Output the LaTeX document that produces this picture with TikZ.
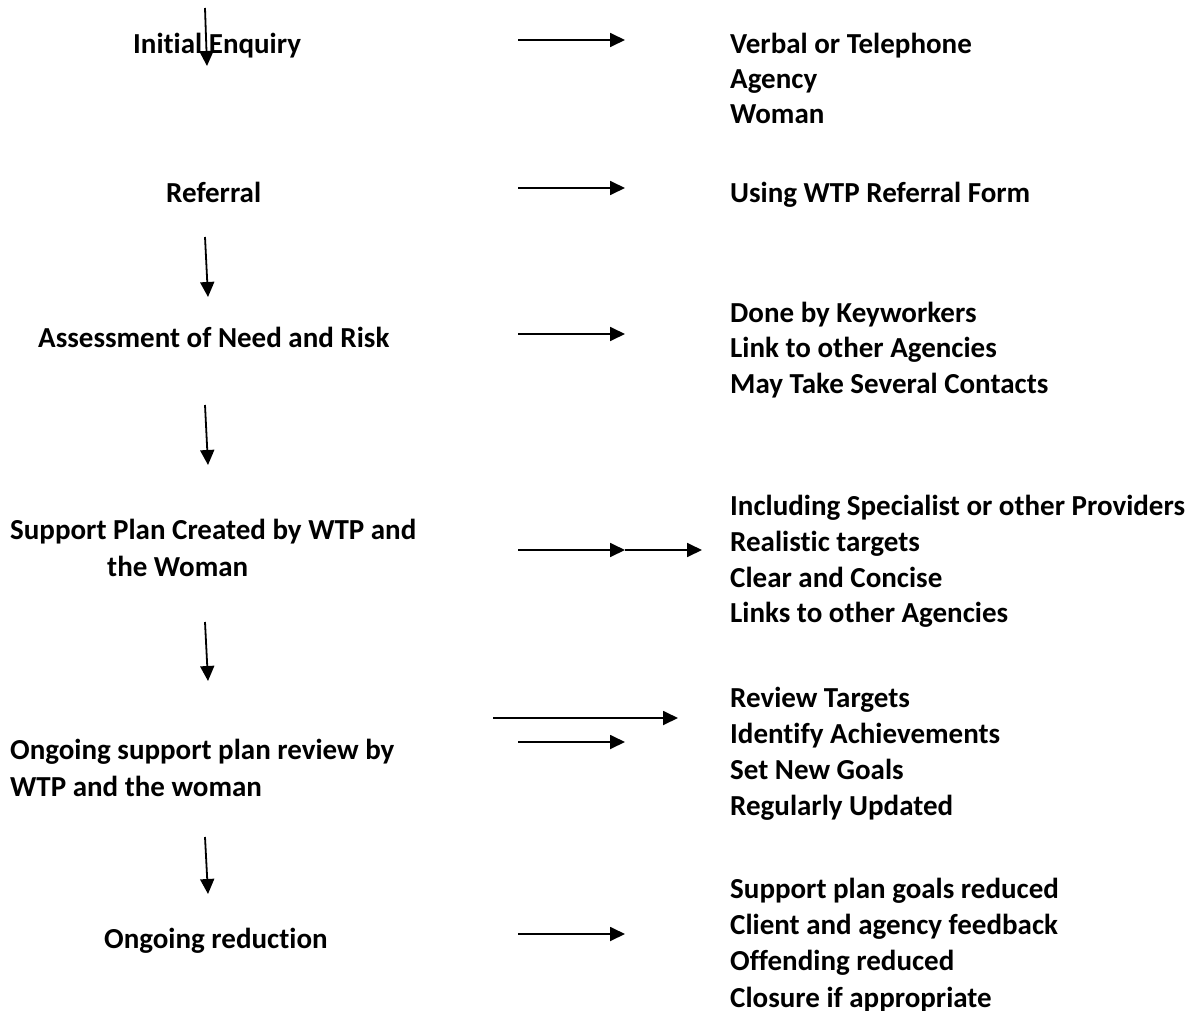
\documentclass[tikz,border=0pt]{standalone}
\usepackage{fontspec}
\setmainfont{Carlito}[Ligatures={NoCommon}]
\usetikzlibrary{arrows.meta}
\begin{document}
\begin{tikzpicture}[x=1pt,y=-1pt,
  lbl/.style={anchor=base west,inner sep=0pt,font=\fontsize{29}{35}\selectfont\bfseries},
  arr/.style={line width=1.8pt,-{Triangle[length=15pt,width=14pt]}}]
\useasboundingbox (0,0) rectangle (1196,1011);
% left column
\node[lbl] (l1) at (133,54) {Initial Enquiry};
\node[lbl] (l2) at (166,203) {Referral};
\node[lbl] (l3) at (38,347) {Assessment of Need and Risk};
\node[lbl] (l4a) at (10,539) {Support Plan Created by WTP and};
\node[lbl] (l4b) at (107,576) {the Woman};
\node[lbl] (l5a) at (10,759) {Ongoing support plan review by};
\node[lbl] (l5b) at (10,796) {WTP and the woman};
\node[lbl] (l6) at (104,948) {Ongoing reduction};
% right column
\node[lbl] (r1a) at (730,54) {Verbal or Telephone};
\node[lbl] (r1b) at (730,89) {Agency};
\node[lbl] (r1c) at (730,124) {Woman};
\node[lbl] (r2) at (730,203) {Using WTP Referral Form};
\node[lbl] (r3a) at (730,322) {Done by Keyworkers};
\node[lbl] (r3b) at (730,357) {Link to other Agencies};
\node[lbl] (r3c) at (730,393) {May Take Several Contacts};
\node[lbl] (r4a) at (730,515) {Including Specialist or other Providers};
\node[lbl] (r4b) at (730,551) {Realistic targets};
\node[lbl] (r4c) at (730,587) {Clear and Concise};
\node[lbl] (r4d) at (730,622) {Links to other Agencies};
\node[lbl] (r5a) at (730,707) {Review Targets};
\node[lbl] (r5b) at (730,743) {Identify Achievements};
\node[lbl] (r5c) at (730,779) {Set New Goals};
\node[lbl] (r5d) at (730,815) {Regularly Updated};
\node[lbl] (r6a) at (730,898) {Support plan goals reduced};
\node[lbl] (r6b) at (730,934) {Client and agency feedback};
\node[lbl] (r6c) at (730,970) {Offending reduced};
\node[lbl] (r6d) at (730,1007) {Closure if appropriate};
% down arrow coordinates
\coordinate (d1s) at (205,8);   \coordinate (d1e) at (207,66);
\coordinate (d2s) at (205,237); \coordinate (d2e) at (208,297);
\coordinate (d3s) at (205,405); \coordinate (d3e) at (208,465);
\coordinate (d4s) at (205,622); \coordinate (d4e) at (208,681);
\coordinate (d5s) at (205,837); \coordinate (d5e) at (208,894);
\foreach \i in {1,...,5} \draw[arr] (d\i s) -- (d\i e);
% right arrow coordinates
\coordinate (h1s) at (518,40);  \coordinate (h1e) at (625,40);
\coordinate (h2s) at (518,188); \coordinate (h2e) at (625,188);
\coordinate (h3s) at (518,334); \coordinate (h3e) at (625,334);
\coordinate (h4s) at (518,550); \coordinate (h4e) at (625,550);
\coordinate (h4f) at (702,550);
\coordinate (h5s) at (493,718); \coordinate (h5e) at (678,718);
\coordinate (h6s) at (518,742); \coordinate (h6e) at (625,742);
\coordinate (h7s) at (518,934); \coordinate (h7e) at (625,934);
\draw[arr] (h1s) -- (h1e);
\draw[arr] (h2s) -- (h2e);
\draw[arr] (h3s) -- (h3e);
\draw[arr] (h4s) -- (h4e);
\draw[arr] (h4e) -- (h4f);
\draw[arr] (h5s) -- (h5e);
\draw[arr] (h6s) -- (h6e);
\draw[arr] (h7s) -- (h7e);
\end{tikzpicture}
\end{document}
